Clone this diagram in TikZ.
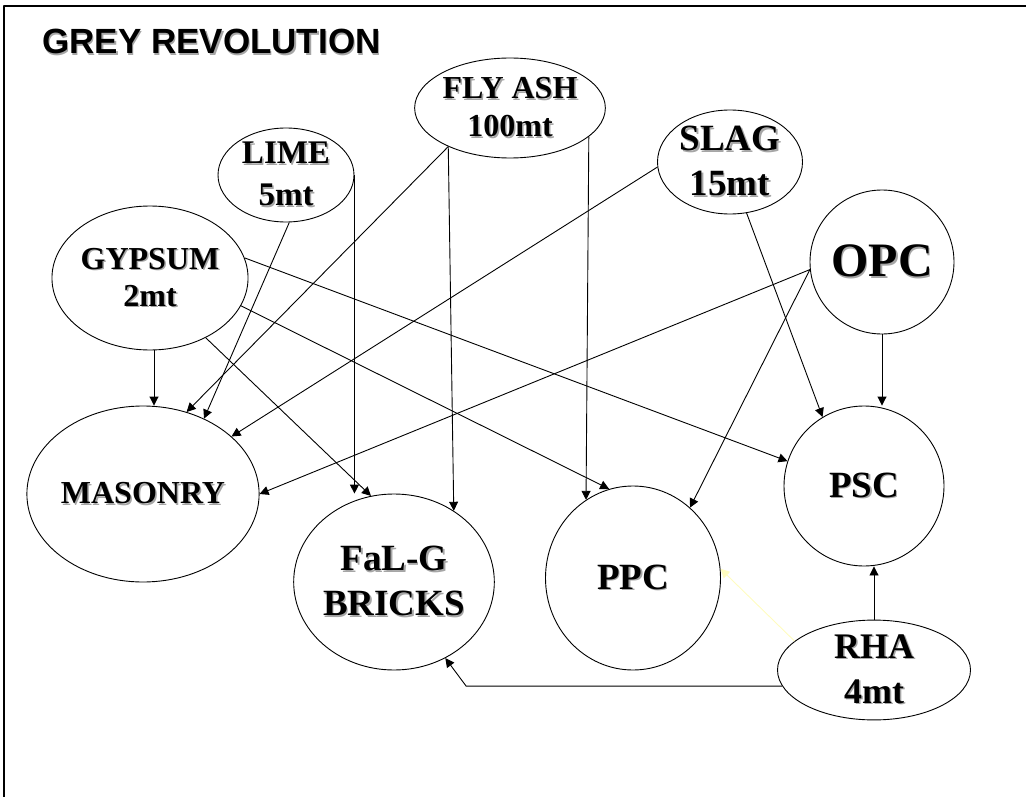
\documentclass[tikz,border=0pt]{standalone}
\usepackage{fontspec}
\setmainfont{Liberation Serif}
\newfontfamily\titlefont{Liberation Sans}
\usepackage{tikz}
\usetikzlibrary{arrows.meta,shapes.geometric}
\newcommand\shad[1]{\leavevmode\rlap{\kern1.5pt\raisebox{-1.5pt}{\color{black!35}#1}}#1}
\tikzset{blob/.style={ellipse,draw,line width=0.9pt,inner sep=0pt,align=center},
  fs/.style 2 args={font=\bfseries\fontsize{#1}{#2}\selectfont},
  link/.style={->,line width=0.9pt}}

\begin{document}
\begin{tikzpicture}[x=1pt,y=-1pt,>={Triangle[length=9pt,width=9pt]},line join=round]
\useasboundingbox (0,0) rectangle (1026,797);
\draw[line width=2.2pt] (4.3,797) -- (4.3,6) -- (1026,6);
\node[anchor=base west,inner sep=0pt,font=\titlefont\bfseries\fontsize{35}{40}\selectfont] (title) at (42,54) {\shad{GREY REVOLUTION}};
% --- raw materials
\node[blob,fs={32}{38},minimum width=184pt,minimum height=100pt] (flyash) at (510,108) {\shad{FLY ASH}\\\shad{100mt}};
\node[blob,fs={33}{42},minimum width=136pt,minimum height=94pt] (lime) at (286,175) {\shad{LIME}\\\shad{5mt}};
\node[blob,fs={37}{45},minimum width=145pt,minimum height=104pt] (slag) at (730,162) {\shad{SLAG}\\\shad{15mt}};
\node[blob,fs={48}{50},minimum width=144pt,minimum height=144pt] (opc) at (882,262) {\shad{OPC}};
\node[blob,fs={32}{37},minimum width=152pt,minimum height=144pt] (gypsum) at (150,278) {\shad{GYPSUM}\\\shad{2mt}};
\node[blob,fs={36}{45},minimum width=193pt,minimum height=95pt] (rha) at (874,670) {\shad{RHA}\\\shad{4mt}};
% --- products
\node[blob,fs={32}{38},minimum width=167pt,minimum height=176pt] (masonry) at (143,494) {\shad{MASONRY}};
\node[blob,fs={37}{45},minimum width=176pt,minimum height=176pt] (falg) at (394,582) {\shad{FaL-G}\\\shad{BRICKS}};
\node[blob,fs={37}{45},minimum width=175pt,minimum height=184pt] (ppc) at (633,578) {\shad{PPC}};
\node[blob,fs={37}{45},minimum width=160pt,minimum height=160pt] (psc) at (864,486) {\shad{PSC}};
% --- links
\draw[link] ([xshift=4pt]gypsum.south) -- ([xshift=4pt]gypsum.south |- masonry.north);
\draw[link] (gypsum.-47) -- (falg.105);
\draw[link] (gypsum.-17) -- (ppc.105);
\draw[link] (gypsum.12) -- (psc.162);
\draw[link] (lime.-86) -- (masonry.51);
\draw[link] (lime.east) -- (lime.east |- falg.north);
\draw[link] (flyash.212) -- (masonry.62);
\draw[link] (flyash.212) -- (falg.50);
\draw[link] (flyash.-20) -- (ppc.121);
\draw[link] (slag.184) -- (masonry.33);
\draw[link] (slag.-72) -- (psc.121);
\draw[link] (opc.186) -- (masonry.east);
\draw[link] (opc.186) -- (ppc.51);
\draw[link] (opc.south) -- (opc.south |- psc.north);
\draw[link] (rha.north) -- (rha.north |- psc.south);
\draw[link,yellow!25] (rha.160) -- (ppc.6);
\draw[link] (rha.190) -- ++(-316,0) -- (falg.-56);
\end{tikzpicture}
\end{document}
